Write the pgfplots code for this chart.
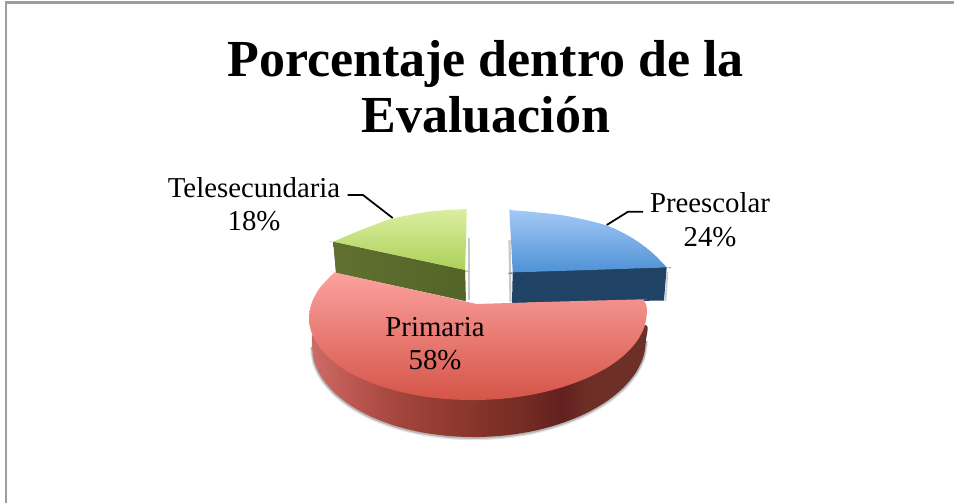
\documentclass[border=0pt]{standalone}
\usepackage{fontspec}
\setmainfont{Liberation Serif}
\usepackage{pgfplots}
\usepackage{pgfplotstable}
\pgfplotsset{compat=1.18}
\definecolor{rs1}{HTML}{CC6C66}\definecolor{rs2}{HTML}{BC5650}\definecolor{rs3}{HTML}{A2453D}
\definecolor{rs4}{HTML}{90382F}\definecolor{rs5}{HTML}{7C3026}\definecolor{rs6}{HTML}{722B23}
\definecolor{rs7}{HTML}{632020}\definecolor{rs9}{HTML}{6F2E25}\definecolor{rs8}{HTML}{6C3029}
\definecolor{gs1}{HTML}{5F7030}\definecolor{gs2}{HTML}{536428}
\pgfdeclarehorizontalshading{redside}{100bp}{color(0bp)=(rs1);color(25bp)=(rs1);color(31bp)=(rs2);color(38bp)=(rs3);
 color(46bp)=(rs4);color(53bp)=(rs5);color(57bp)=(rs6);color(62bp)=(rs7);color(66bp)=(rs9);color(75bp)=(rs8);color(100bp)=(rs8)}
\pgfplotstableread{
x y
312 346
314.5 362.4
322 377.9
334.4 392.6
351.1 405.7
371.6 416.9
395.5 425.9
421.9 432.4
450 436.1
479 437
508 435.1
536.1 430.4
562.5 422.9
586.4 413.1
606.9 401.1
623.6 387.4
636 372.3
643.5 356.4
646 340
}\bottomedge
\begin{document}
\begin{tikzpicture}[x=1pt,y=1pt]
\begin{axis}[scale only axis,width=715.5pt,height=377.25pt,xmin=0,xmax=954,ymin=0,ymax=503,y dir=reverse,
  hide axis,clip=true]
\path[use as bounding box] (rel axis cs:0,0) rectangle (rel axis cs:1,1);
% frame
\addplot[draw=black!38,line width=1.6pt] coordinates {(6,503)(6,2.5)(954,2.5)};
% soft shadows
\addplot[draw=black,opacity=.10,line width=3.2pt,smooth,shift={(0pt,-.8pt)}] table {\bottomedge};
\addplot[draw=black,opacity=.20,line width=1.8pt,smooth,shift={(0pt,-.5pt)}] table {\bottomedge};
\addplot[draw=black,opacity=.22,line width=1.6pt] coordinates {(469,238)(469,300)};
\addplot[draw=black,opacity=.22,line width=1.6pt] coordinates {(509.5,240)(510.5,302)};
\addplot[draw=black,opacity=.2,line width=1.2pt] coordinates {(665.5,301)(667.5,272)};
% Telesecundaria 18
\addplot[draw=none,fill=gs2,left color=gs1,right color=gs2] coordinates {(333.3,241.7)(336,272.7)(465.7,301)(465,270)(333.3,241.7)};
\addplot[draw=none,top color={rgb,255:red,222;green,241;blue,165},bottom color={rgb,255:red,168;green,206;blue,84},smooth] coordinates {(466.7,209)(466.7,209)(466,240)(465,270)(465,270)(400,256)(333.3,241.7)(333.3,241.7)(350,234.5)(370,226.5)(393,218.5)(430,211.5)(466.7,209)(466.7,209)};
% Preescolar 24
\addplot[draw=none,fill={rgb,255:red,31;green,66;blue,101}] coordinates {(512.7,272)(512,303)(664,300.5)(666.7,267)};
\addplot[draw=none,top color={rgb,255:red,168;green,204;blue,247},bottom color={rgb,255:red,72;green,142;blue,212},smooth] coordinates {(509.3,210)(509.3,210)(511,240)(512.7,272.3)(512.7,272.3)(590,270)(666.7,267.3)(666.7,267.3)(652,252.5)(633,238.5)(606.7,225.5)(567,216)(533,212)(509.3,210)(509.3,210)};
% Primaria 58
\addplot[draw=none,shade,shading=redside,smooth] coordinates {(312,335)(312,346)(314.5,362.4)(322,377.9)(334.4,392.6)(351.1,405.7)(371.6,416.9)(395.5,425.9)(421.9,432.4)(450,436.1)(479,437)(508,435.1)(536.1,430.4)(562.5,422.9)(586.4,413.1)(606.9,401.1)(623.6,387.4)(636,372.3)(643.5,356.4)(646,340)(646,325)(620,335)(478,360)(340,345)(312,335)};
\addplot[draw=none,top color={rgb,255:red,252;green,163;blue,160},bottom color={rgb,255:red,213;green,84;blue,72},smooth] coordinates {(476.7,304)(476.7,304)(560,301.5)(643.3,299.3)(643.3,299.3)(646.2,305)(647,312)(644.4,326.8)(636.8,341.3)(624.4,354.9)(607.5,367.4)(586.6,378.2)(562.5,387.1)(535.8,393.9)(507.4,398.2)(478,400)(448.6,399.2)(420.2,395.9)(393.5,390.1)(369.4,382)(348.5,372)(331.6,360.1)(319.2,346.9)(311.6,332.8)(309,318)(311.6,303.2)(319.2,288.7)(331.6,275.1)(335,272.5)(335,272.5)(405,288)(476.7,304)(476.7,304)};
% leaders
\addplot[draw=black,line width=1.3pt] coordinates {(347.7,195)(363,195)(392.7,218)};
\addplot[draw=black,line width=1.3pt] coordinates {(643,211.7)(628,211.7)(606.7,225)};
% text
\node[anchor=base,font=\fontsize{39}{39}\selectfont\bfseries] at (axis cs:485.5,76) {Porcentaje dentro de la};
\node[anchor=base,font=\fontsize{39}{39}\selectfont\bfseries] at (axis cs:486,132) {Evaluación};
\node[anchor=base,font=\fontsize{21.6}{21.6}\selectfont] at (axis cs:254,197) {Telesecundaria};
\node[anchor=base,font=\fontsize{21.6}{21.6}\selectfont] at (axis cs:254,230) {18\%};
\node[anchor=base,font=\fontsize{21.6}{21.6}\selectfont] at (axis cs:710,212) {Preescolar};
\node[anchor=base,font=\fontsize{21.6}{21.6}\selectfont] at (axis cs:710,246) {24\%};
\node[anchor=base,font=\fontsize{21.6}{21.6}\selectfont] at (axis cs:435,336) {Primaria};
\node[anchor=base,font=\fontsize{21.6}{21.6}\selectfont] at (axis cs:435,369) {58\%};
\end{axis}
\end{tikzpicture}
\end{document}
